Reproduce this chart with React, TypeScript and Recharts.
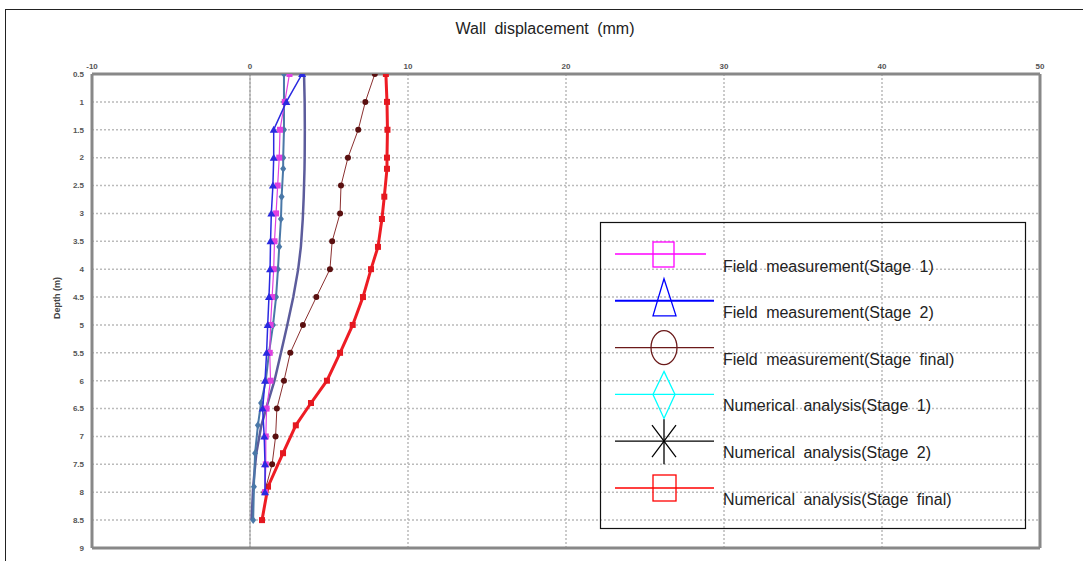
import React from "react";
import {
  ScatterChart,
  Scatter,
  XAxis,
  YAxis,
  CartesianGrid,
  ReferenceLine,
} from "recharts";

// ---------- data ----------
const xTicks = [-10, 0, 10, 20, 30, 40, 50];
const yTicks = [0.5, 1, 1.5, 2, 2.5, 3, 3.5, 4, 4.5, 5, 5.5, 6, 6.5, 7, 7.5, 8, 8.5, 9];

const fieldDepths = [0.5, 1, 1.5, 2, 2.5, 3, 3.5, 4, 4.5, 5, 5.5, 6, 6.5, 7, 7.5, 8];
const fieldStage1 = [2.5, 2.2, 1.9, 1.85, 1.75, 1.65, 1.55, 1.5, 1.4, 1.3, 1.25, 1.3, 1.05, 1.0, 1.0, 0.95];
const fieldStage2 = [3.3, 2.3, 1.5, 1.5, 1.45, 1.35, 1.3, 1.27, 1.2, 1.12, 1.05, 0.95, 0.8, 0.9, 0.95, 0.95];
const fieldFinal = [7.9, 7.3, 6.85, 6.2, 5.76, 5.7, 5.2, 5.06, 4.2, 3.35, 2.55, 2.15, 1.7, 1.62, 1.4, 0.92];

const numDepths = [0.5, 1, 1.5, 2, 2.2, 2.7, 3.1, 3.6, 4, 4.5, 5, 5.5, 6, 6.4, 6.8, 7.3, 7.9, 8.5];
const numStage1 = [2.15, 2.15, 2.15, 2.1, 2.1, 2.0, 1.96, 1.85, 1.77, 1.65, 1.46, 1.2, 1.0, 0.7, 0.5, 0.32, 0.25, 0.2];
const numStage2 = [3.42, 3.46, 3.47, 3.46, 3.45, 3.4, 3.34, 3.22, 3.05, 2.74, 2.36, 1.96, 1.55, 1.12, 0.72, 0.4, 0.2, 0.1];
const numFinal = [8.6, 8.67, 8.7, 8.67, 8.67, 8.5, 8.35, 8.1, 7.66, 7.15, 6.5, 5.7, 4.87, 3.86, 2.9, 2.09, 1.14, 0.76];

const legendLabels = [
  "Field measurement(Stage 1)",
  "Field measurement(Stage 2)",
  "Field measurement(Stage final)",
  "Numerical analysis(Stage 1)",
  "Numerical analysis(Stage 2)",
  "Numerical analysis(Stage final)",
];
const legendColors = ["#ff00ff", "#0000ff", "#6b1a1a", "#00ffff", "#000000", "#ff0000"];

const toPoints = (depths: number[], vals: number[]) =>
  vals.map((v, i) => ({ x: v, y: depths[i] }));

// ---------- marker shapes ----------
const makeShape = (kind: string, color: string, r: number) => (props: any) => {
  const { cx, cy } = props;
  if (cx == null || cy == null) return <g />;
  if (kind === "none") return <g />;
  if (kind === "square")
    return <rect x={cx - r} y={cy - r} width={2 * r} height={2 * r} fill={color} />;
  if (kind === "triangle")
    return (
      <polygon
        points={`${cx},${cy - r - 1} ${cx - r - 1},${cy + r} ${cx + r + 1},${cy + r}`}
        fill={color}
      />
    );
  if (kind === "diamond")
    return (
      <polygon
        points={`${cx},${cy - r - 1} ${cx + r},${cy} ${cx},${cy + r + 1} ${cx - r},${cy}`}
        fill={color}
      />
    );
  return <circle cx={cx} cy={cy} r={r} fill={color} />;
};

const W = 1083;
const H = 561;

export default function App() {
  const tickStyle = {
    fontSize: 8,
    fontWeight: 700,
    fill: "#555",
    fontFamily: '"Liberation Sans", Arial, sans-serif',
  };
  const cy0 = 254;
  const dy = 46.8;
  const textY0 = 266;
  const textDy = 46.6;
  const sx = 664;

  return (
    <div
      style={{
        position: "absolute",
        left: 0,
        top: 0,
        width: W,
        height: H,
        overflow: "hidden",
        background: "#fff",
        fontFamily: '"Liberation Sans", Arial, sans-serif',
      }}
    >
      <div
        style={{
          position: "absolute",
          left: 5,
          top: 9,
          width: 1100,
          height: 600,
          border: "1px solid #222",
          boxSizing: "border-box",
        }}
      />
      <div style={{ position: "absolute", left: 0, top: 0 }}>
        <ScatterChart width={W} height={H} margin={{ top: 54, right: 43, bottom: 13, left: 32 }}>
          <CartesianGrid stroke="#bbb" strokeDasharray="2 2" strokeWidth={1.5} />
          <XAxis
            type="number"
            dataKey="x"
            orientation="top"
            domain={[-10, 50]}
            ticks={xTicks}
            height={20}
            tickLine={false}
            tickSize={3}
            axisLine={{ stroke: "#888", strokeWidth: 3 }}
            tick={tickStyle}
            allowDataOverflow
          />
          <YAxis
            type="number"
            dataKey="y"
            domain={[0.5, 9]}
            ticks={yTicks}
            reversed
            width={60}
            tickLine={false}
            axisLine={{ stroke: "#888", strokeWidth: 3 }}
            tick={tickStyle}
            allowDataOverflow
          />
          <ReferenceLine x={0} stroke="#999" strokeWidth={1} />
          <ReferenceLine x={50} stroke="#888" strokeWidth={3} />
          <ReferenceLine y={9} stroke="#888" strokeWidth={3} />
          <Scatter
            data={toPoints(numDepths, numStage2)}
            line={{ stroke: "#5c5c9c", strokeWidth: 2.5 }}
            shape={makeShape("none", "#5c5c9c", 2)}
            isAnimationActive={false}
          />
          <Scatter
            data={toPoints(numDepths, numStage1)}
            line={{ stroke: "#4a78a8", strokeWidth: 2 }}
            shape={makeShape("diamond", "#4a78a8", 3)}
            isAnimationActive={false}
          />
          <Scatter
            data={toPoints(numDepths, numFinal)}
            line={{ stroke: "#ee1c24", strokeWidth: 3 }}
            shape={makeShape("square", "#e41820", 3)}
            isAnimationActive={false}
          />
          <Scatter
            data={toPoints(fieldDepths, fieldFinal)}
            line={{ stroke: "#8b3030", strokeWidth: 1 }}
            shape={makeShape("circle", "#5a1010", 3)}
            isAnimationActive={false}
          />
          <Scatter
            data={toPoints(fieldDepths, fieldStage1)}
            line={{ stroke: "#e040e0", strokeWidth: 1.2 }}
            shape={makeShape("square", "#e040e0", 3)}
            isAnimationActive={false}
          />
          <Scatter
            data={toPoints(fieldDepths, fieldStage2)}
            line={{ stroke: "#2a2ae0", strokeWidth: 1.5 }}
            shape={makeShape("triangle", "#2a2ae0", 3)}
            isAnimationActive={false}
          />
        </ScatterChart>
      </div>
      <svg
        width={W}
        height={H}
        style={{ position: "absolute", left: 0, top: 0, pointerEvents: "none" }}
      >
        <text
          x={545}
          y={28}
          textAnchor="middle"
          dominantBaseline="central"
          fontSize={16}
          fill="#222"
          style={{ wordSpacing: 4 }}
        >
          Wall displacement (mm)
        </text>
        <text
          x={57}
          y={298}
          textAnchor="middle"
          dominantBaseline="central"
          fontSize={9}
          fontWeight={700}
          fill="#444"
          transform="rotate(-90 57 298)"
        >
          Depth (m)
        </text>
        <rect x={600.5} y={222.5} width={425} height={306} fill="none" stroke="#111" strokeWidth={1.2} />
        {legendLabels.map((label, i) => {
          const cy = cy0 + i * dy;
          const c = legendColors[i];
          let sym: React.ReactNode = null;
          if (i === 0)
            sym = <rect x={sx - 11} y={cy - 12} width={21} height={25} fill="none" stroke={c} strokeWidth={1.3} />;
          else if (i === 1)
            sym = (
              <polygon
                points={`${sx},${cy - 22} ${sx - 11},${cy + 15} ${sx + 12},${cy + 15}`}
                fill="none"
                stroke={c}
                strokeWidth={1.3}
              />
            );
          else if (i === 2)
            sym = <ellipse cx={sx} cy={cy} rx={13} ry={17} fill="none" stroke={c} strokeWidth={1.3} />;
          else if (i === 3)
            sym = (
              <polygon
                points={`${sx},${cy - 23} ${sx + 11},${cy} ${sx},${cy + 24} ${sx - 11},${cy}`}
                fill="none"
                stroke={c}
                strokeWidth={1.3}
              />
            );
          else if (i === 4)
            sym = (
              <g stroke={c} strokeWidth={1.3}>
                <line x1={sx} y1={cy - 22} x2={sx} y2={cy + 23} />
                <line x1={sx - 12} y1={cy - 16} x2={sx + 12} y2={cy + 16} />
                <line x1={sx - 12} y1={cy + 16} x2={sx + 12} y2={cy - 16} />
              </g>
            );
          else
            sym = <rect x={sx - 11} y={cy - 13} width={23} height={26} fill="none" stroke={c} strokeWidth={1.3} />;
          return (
            <g key={label}>
              <line x1={615} y1={cy} x2={i === 0 ? 706 : 714} y2={cy} stroke={c} strokeWidth={i === 1 ? 2 : 1.3} />
              {sym}
              <text
                x={723}
                y={textY0 + i * textDy}
                dominantBaseline="central"
                fontSize={16}
                fill="#222"
                style={{ wordSpacing: 4 }}
              >
                {label}
              </text>
            </g>
          );
        })}
      </svg>
    </div>
  );
}
